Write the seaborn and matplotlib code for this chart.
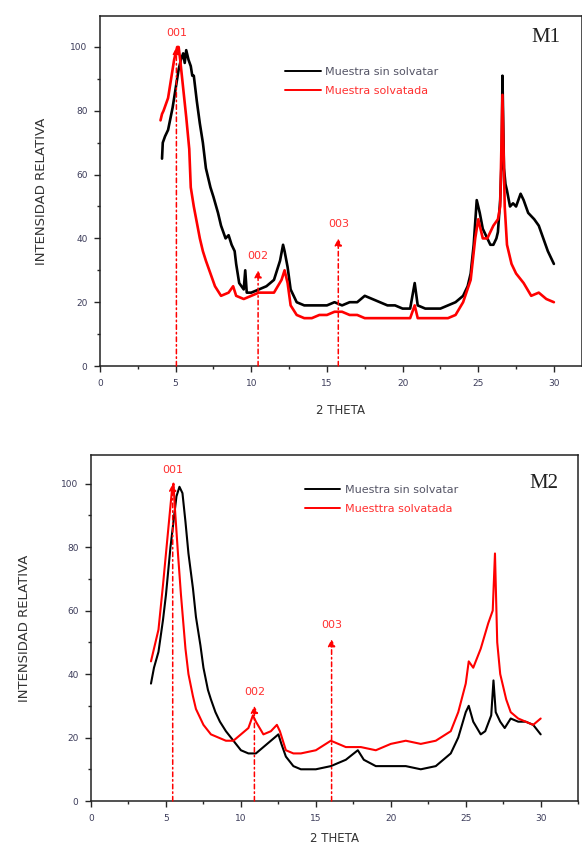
import numpy as np
import pandas as pd
import matplotlib
matplotlib.use("Agg")
import matplotlib.pyplot as plt
import seaborn as sns
from matplotlib.ticker import MultipleLocator

# ---------------- data ----------------
m1_black_x = [4.1, 4.15, 4.3, 4.5, 4.8, 5.0, 5.2, 5.35, 5.5, 5.6, 5.7, 5.85, 6.0, 6.1, 6.2, 6.4, 6.6, 6.8, 7.0, 7.3, 7.5,
              7.8, 8.0, 8.3, 8.5, 8.7, 8.9, 9.0, 9.2, 9.5, 9.6, 9.7, 10.0, 10.5, 11.0, 11.5, 11.9, 12.1, 12.2, 12.4,
              12.6, 13.0, 13.5, 14.0, 14.5, 15.0, 15.5, 16.0, 16.5, 17.0, 17.5, 18.0, 18.5, 19.0, 19.5, 20.0, 20.5,
              20.8, 21.0, 21.5, 22.0, 22.5, 23.0, 23.5, 24.0, 24.3, 24.5, 24.7, 24.8, 24.9, 25.1, 25.3, 25.6, 25.8,
              26.0, 26.2, 26.3, 26.45, 26.55, 26.6, 26.7, 26.8, 26.9, 27.1, 27.3, 27.5, 27.8, 28.0, 28.3, 28.7,
              29.0, 29.3, 29.6, 29.8, 30.0]
m1_black_y = [65, 70, 72, 74, 81, 87, 93, 96, 98, 95, 99, 96, 94, 91, 91, 83, 76, 70, 62, 56, 53,
              48, 44, 40, 41, 38, 36, 32, 26, 24, 30, 23, 23, 24, 25, 27, 33, 38, 36, 31,
              24, 20, 19, 19, 19, 19, 20, 19, 20, 20, 22, 21, 20, 19, 19, 18, 18,
              26, 19, 18, 18, 18, 19, 20, 22, 25, 29, 38, 45, 52, 48, 43, 40, 38,
              38, 40, 42, 52, 65, 91, 62, 57, 55, 50, 51, 50, 54, 52, 48, 46,
              44, 40, 36, 34, 32]

m1_red_x = [4.0, 4.1, 4.2, 4.5, 4.7, 4.9, 5.0, 5.1, 5.2, 5.3, 5.5, 5.7, 5.9, 6.0, 6.2, 6.4, 6.6, 6.8, 7.0, 7.3, 7.6,
            8.0, 8.5, 8.8, 9.0, 9.5, 10.0, 10.5, 11.0, 11.5, 12.0, 12.2, 12.4, 12.6, 13.0, 13.5, 14.0, 14.5,
            15.0, 15.5, 16.0, 16.5, 17.0, 17.5, 18.0, 18.5, 19.0, 19.5, 20.0, 20.5, 20.8, 21.0, 21.5, 22.0,
            22.5, 23.0, 23.5, 24.0, 24.5, 24.8, 25.0, 25.3, 25.6, 26.0, 26.3, 26.45, 26.6, 26.75, 26.9, 27.2,
            27.5, 28.0, 28.5, 29.0, 29.5, 30.0]
m1_red_y = [77, 79, 80, 84, 90, 96, 98, 100, 100, 96, 87, 78, 68, 56, 50, 45, 40, 36, 33, 29, 25,
            22, 23, 25, 22, 21, 22, 23, 23, 23, 27, 30, 26, 19, 16, 15, 15, 16,
            16, 17, 17, 16, 16, 15, 15, 15, 15, 15, 15, 15, 19, 15, 15, 15,
            15, 15, 16, 20, 27, 40, 46, 40, 40, 44, 46, 50, 85, 50, 38, 32,
            29, 26, 22, 23, 21, 20]

m2_black_x = [4.0, 4.2, 4.5, 4.8, 5.0, 5.3, 5.5, 5.7, 5.9, 6.1, 6.3, 6.5, 6.8, 7.0, 7.3, 7.5, 7.8, 8.0, 8.3, 8.6,
              9.0, 9.5, 10.0, 10.5, 11.0, 11.5, 12.0, 12.5, 12.7, 13.0, 13.5, 14.0, 15.0, 16.0, 17.0, 17.8,
              18.2, 19.0, 20.0, 21.0, 22.0, 23.0, 24.0, 24.5, 25.0, 25.2, 25.5, 26.0, 26.3, 26.7, 26.85,
              27.0, 27.3, 27.6, 28.0, 28.5, 29.0, 29.5, 30.0]
m2_black_y = [37, 42, 47, 57, 65, 80, 88, 96, 99, 97, 88, 78, 67, 58, 49, 42, 35, 32, 28, 25,
              22, 19, 16, 15, 15, 17, 19, 21, 18, 14, 11, 10, 10, 11, 13, 16,
              13, 11, 11, 11, 10, 11, 15, 20, 28, 30, 25, 21, 22, 27, 38,
              28, 25, 23, 26, 25, 25, 24, 21]

m2_red_x = [4.0, 4.3, 4.5, 4.8, 5.0, 5.2, 5.4, 5.5, 5.6, 5.8, 6.0, 6.3, 6.5, 6.8, 7.0, 7.5, 8.0, 8.5, 9.0, 9.5,
            10.0, 10.5, 10.8, 11.0, 11.5, 12.0, 12.4, 12.6, 13.0, 13.5, 14.0, 15.0, 16.0, 16.5, 17.0, 18.0,
            19.0, 20.0, 21.0, 22.0, 23.0, 24.0, 24.5, 25.0, 25.2, 25.5, 26.0, 26.5, 26.8, 26.95, 27.1, 27.3,
            27.7, 28.0, 28.5, 29.0, 29.5, 30.0]
m2_red_y = [44, 50, 54, 68, 78, 88, 98, 100, 92, 78, 65, 48, 40, 33, 29, 24, 21, 20, 19, 19,
            21, 23, 27, 25, 21, 22, 24, 22, 16, 15, 15, 16, 19, 18, 17, 17,
            16, 18, 19, 18, 19, 22, 28, 37, 44, 42, 48, 56, 60, 78, 50, 40,
            32, 28, 26, 25, 24, 26]

labels_m1 = ["Muestra sin solvatar", "Muestra solvatada"]
labels_m2 = ["Muestra sin solvatar", "Muesttra solvatada"]

# reflections: position, arrow top, label
m1_refl_x = [5.05, 10.45, 15.75]
m1_refl_top = [100, 30, 40]
m2_refl_x = [5.45, 10.9, 16.05]
m2_refl_top = [100, 30, 51]
refl_labels = ["001", "002", "003"]

x_ticks = [0, 5, 10, 15, 20, 25, 30]
y_ticks = [0, 20, 40, 60, 80, 100]

# ---------------- plotting ----------------
sns.set_theme(style="ticks")
plt.rcParams['font.family'] = ['DejaVu Sans']

fig = plt.figure(figsize=(5.82, 8.49), dpi=100)
ax1 = fig.add_axes([0.1718, 0.5689, 0.828, 0.4122])
ax2 = fig.add_axes([0.1564, 0.0565, 0.837, 0.4075])

def make_df(bx, by, rx, ry, labels):
    d1 = pd.DataFrame({"theta": bx, "intensidad": by, "serie": labels[0]})
    d2 = pd.DataFrame({"theta": rx, "intensidad": ry, "serie": labels[1]})
    return pd.concat([d1, d2], ignore_index=True)

tick_color = "#3c3c5a"
panels = [
    dict(ax=ax1, df=make_df(m1_black_x, m1_black_y, m1_red_x, m1_red_y, labels_m1), labels=labels_m1,
         rx=m1_refl_x, rtop=m1_refl_top, tag="M1", xl=(0, 31.85), yl=(0, 109.7),
         lw=1.9, tagpos=(0.955, 0.965), legpos=(0.375, 0.868), ylpad=16, xlpad=12),
    dict(ax=ax2, df=make_df(m2_black_x, m2_black_y, m2_red_x, m2_red_y, labels_m2), labels=labels_m2,
         rx=m2_refl_x, rtop=m2_refl_top, tag="M2", xl=(0, 32.5), yl=(0, 109.0),
         lw=1.5, tagpos=(0.96, 0.945), legpos=(0.43, 0.927), ylpad=22, xlpad=7),
]

for p in panels:
    ax = p["ax"]; labels = p["labels"]
    sns.lineplot(data=p["df"], x="theta", y="intensidad", hue="serie",
                 palette={labels[0]: "black", labels[1]: "#ff0000"},
                 estimator=None, sort=False, linewidth=p["lw"], ax=ax)
    ax.set_xlim(*p["xl"])
    ax.set_ylim(*p["yl"])
    ax.set_xticks(x_ticks)
    ax.set_yticks(y_ticks)
    ax.xaxis.set_minor_locator(MultipleLocator(2.5))
    ax.yaxis.set_minor_locator(MultipleLocator(10))
    ax.tick_params(which="major", direction="out", length=4, width=1.0,
                   labelsize=6.5, labelcolor=tick_color, pad=5)
    ax.tick_params(which="minor", direction="out", length=2.5, width=1.0)
    for s in ax.spines.values():
        s.set_linewidth(1.1)
        s.set_color("#222222")
    ax.set_xlabel("2 THETA", fontsize=8.5, color="#333333", labelpad=p["xlpad"])
    ax.set_ylabel("INTENSIDAD RELATIVA", fontsize=9.5, color="#333333", labelpad=p["ylpad"])

    # reflections
    for x0, top, lab in zip(p["rx"], p["rtop"], refl_labels):
        ax.annotate("", xy=(x0, top), xytext=(x0, 0),
                    arrowprops=dict(arrowstyle="-|>,head_length=0.35,head_width=0.18",
                                    color="#ff0000", lw=1.1, linestyle=(0, (3, 2, 1, 2)),
                                    shrinkA=0, shrinkB=0))
        ax.text(x0, top + 2.8, lab, color="#ff3030", fontsize=8, ha="center", va="bottom")

    ax.text(*p["tagpos"], p["tag"], transform=ax.transAxes,
            fontsize=15, family="Liberation Serif", ha="right", va="top", color="#222222")

    leg = ax.legend(loc="upper left", bbox_to_anchor=p["legpos"],
                    frameon=False, fontsize=8, handlelength=3.2, handletextpad=0.4,
                    labelspacing=0.8, borderaxespad=0)
    for t, c in zip(leg.get_texts(), ["#555566", "#ff3030"]):
        t.set_color(c)
    for h in leg.get_lines():
        h.set_linewidth(1.4)

fig.savefig("out.png", dpi=100)
